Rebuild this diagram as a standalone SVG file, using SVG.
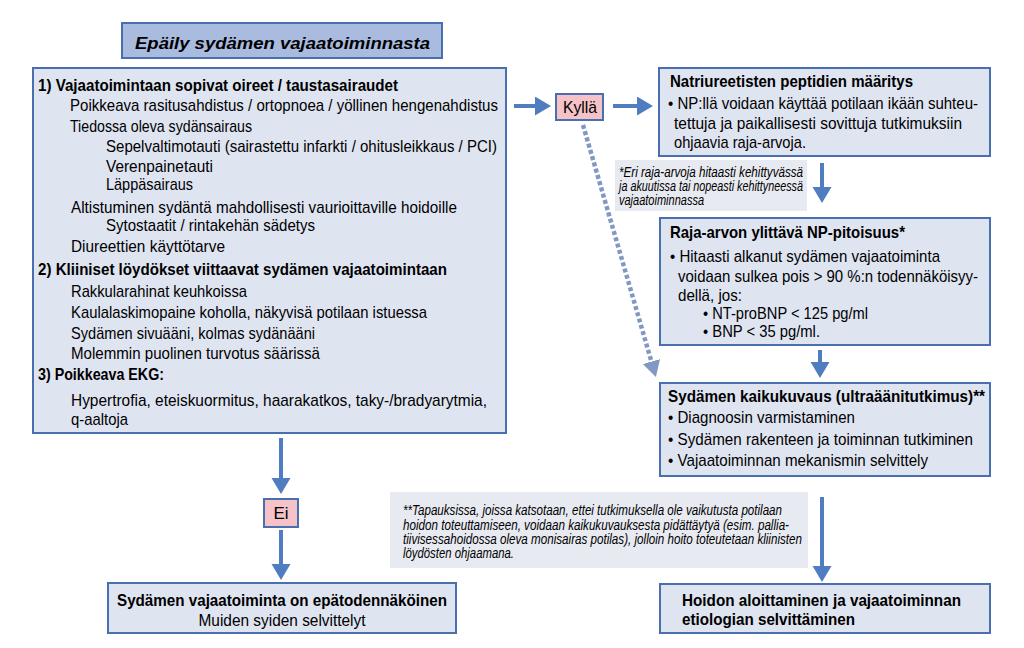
<svg xmlns="http://www.w3.org/2000/svg" width="1024" height="648" viewBox="0 0 1024 648">
<style>
.box{fill:#dfe4f1;stroke:#4a6fb0;stroke-width:2}
.ttl{fill:#a9bbdf;stroke:#4a6fb0;stroke-width:2}
.pink{fill:#f5c3c7;stroke:#4a6fb0;stroke-width:2}
.note{fill:#e8eaf1}
.t{font-family:"Liberation Sans",Arial,sans-serif;font-size:17px;fill:#000000}
.b{font-weight:bold}
.n{font-family:"Liberation Sans",Arial,sans-serif;font-style:italic;font-size:14px;fill:#000000}
.arr{stroke:#4f7dbf;stroke-width:4;fill:none;marker-end:url(#ah)}
.dot{stroke:#8298c4;stroke-width:4.5;fill:none;stroke-dasharray:4 2.5;marker-end:url(#ahd)}
</style>
<defs>
<marker id="ah" markerUnits="userSpaceOnUse" markerWidth="18" markerHeight="20" refX="2" refY="9.5" orient="auto">
<path d="M0,0 L16,9.5 L0,19 z" fill="#4f7dbf"/>
</marker>
<marker id="ahd" markerUnits="userSpaceOnUse" markerWidth="18" markerHeight="20" refX="2" refY="9" orient="auto">
<path d="M0,0 L16,9 L0,18 z" fill="#8298c4"/>
</marker>
</defs>
<rect width="1024" height="648" fill="#ffffff"/>

<g id="connectors">
<line class="arr" x1="514" y1="106" x2="537" y2="106"/>
<line class="arr" x1="613" y1="106" x2="639" y2="106"/>
<line class="arr" x1="822" y1="163" x2="822" y2="189"/>
<line class="arr" x1="820" y1="350" x2="820" y2="364"/>
<line class="arr" x1="822" y1="497" x2="822" y2="568"/>
<line class="arr" x1="281" y1="438" x2="281" y2="480"/>
<line class="arr" x1="281" y1="530" x2="281" y2="566"/>
<line class="dot" x1="583" y1="125" x2="652" y2="363.5"/>
</g>

<g id="title">
<rect class="ttl" x="122" y="23" width="320" height="35"/>
<text class="t b" x="282.5" y="49" text-anchor="middle" font-size="22" font-style="italic" textLength="295" lengthAdjust="spacingAndGlyphs">Epäily sydämen vajaatoiminnasta</text>
</g>

<g id="criteria">
<rect class="box" x="33" y="68" width="473" height="365"/>
<text class="t b" x="38" y="91" textLength="360" lengthAdjust="spacingAndGlyphs">1) Vajaatoimintaan sopivat oireet / taustasairaudet</text>
<text class="t" x="70" y="111" textLength="428" lengthAdjust="spacingAndGlyphs">Poikkeava rasitusahdistus / ortopnoea / yöllinen hengenahdistus</text>
<text class="t" x="70" y="132" textLength="182" lengthAdjust="spacingAndGlyphs">Tiedossa oleva sydänsairaus</text>
<text class="t" x="106" y="152" textLength="391" lengthAdjust="spacingAndGlyphs">Sepelvaltimotauti (sairastettu infarkti / ohitusleikkaus / PCI)</text>
<text class="t" x="106" y="172" textLength="107" lengthAdjust="spacingAndGlyphs">Verenpainetauti</text>
<text class="t" x="106" y="190" textLength="87" lengthAdjust="spacingAndGlyphs">Läppäsairaus</text>
<text class="t" x="71" y="213" textLength="386" lengthAdjust="spacingAndGlyphs">Altistuminen sydäntä mahdollisesti vaurioittaville hoidoille</text>
<text class="t" x="106" y="231" textLength="209" lengthAdjust="spacingAndGlyphs">Sytostaatit / rintakehän sädetys</text>
<text class="t" x="71" y="252" textLength="154" lengthAdjust="spacingAndGlyphs">Diureettien käyttötarve</text>
<text class="t b" x="38" y="275" textLength="409" lengthAdjust="spacingAndGlyphs">2) Kliiniset löydökset viittaavat sydämen vajaatoimintaan</text>
<text class="t" x="71" y="297" textLength="176" lengthAdjust="spacingAndGlyphs">Rakkularahinat keuhkoissa</text>
<text class="t" x="71" y="318" textLength="356" lengthAdjust="spacingAndGlyphs">Kaulalaskimopaine koholla, näkyvisä potilaan istuessa</text>
<text class="t" x="71" y="339" textLength="244" lengthAdjust="spacingAndGlyphs">Sydämen sivuääni, kolmas sydänääni</text>
<text class="t" x="71" y="359" textLength="249" lengthAdjust="spacingAndGlyphs">Molemmin puolinen turvotus säärissä</text>
<text class="t b" x="38" y="380" textLength="126" lengthAdjust="spacingAndGlyphs">3) Poikkeava EKG:</text>
<text class="t" x="71" y="406" textLength="416" lengthAdjust="spacingAndGlyphs">Hypertrofia, eteiskuormitus, haarakatkos, taky-/bradyarytmia,</text>
<text class="t" x="71" y="425" textLength="57" lengthAdjust="spacingAndGlyphs">q-aaltoja</text>
</g>

<g id="kylla">
<rect class="pink" x="556" y="94" width="47" height="26"/>
<text class="t" x="580" y="113" text-anchor="middle" textLength="34" lengthAdjust="spacingAndGlyphs">Kyllä</text>
</g>

<g id="np-measure">
<rect class="box" x="659" y="68" width="331" height="88"/>
<text class="t b" x="670" y="87" textLength="243" lengthAdjust="spacingAndGlyphs">Natriureetisten peptidien määritys</text>
<text class="t" x="668" y="109" textLength="310" lengthAdjust="spacingAndGlyphs">• NP:llä voidaan käyttää potilaan ikään suhteu-</text>
<text class="t" x="674" y="129" textLength="288" lengthAdjust="spacingAndGlyphs">tettuja ja paikallisesti sovittuja tutkimuksiin</text>
<text class="t" x="674" y="148" textLength="132" lengthAdjust="spacingAndGlyphs">ohjaavia raja-arvoja.</text>
</g>

<g id="note1">
<rect class="note" x="615" y="160" width="192" height="51"/>
<text class="n" x="619" y="177" textLength="184" lengthAdjust="spacingAndGlyphs">*Eri raja-arvoja hitaasti kehittyvässä</text>
<text class="n" x="619" y="191" textLength="184" lengthAdjust="spacingAndGlyphs">ja akuutissa tai nopeasti kehittyneessä</text>
<text class="n" x="619" y="205" textLength="85" lengthAdjust="spacingAndGlyphs">vajaatoiminnassa</text>
</g>

<g id="np-high">
<rect class="box" x="660" y="218" width="330" height="127"/>
<text class="t b" x="670" y="238" textLength="235" lengthAdjust="spacingAndGlyphs">Raja-arvon ylittävä NP-pitoisuus*</text>
<text class="t" x="670" y="262" textLength="270" lengthAdjust="spacingAndGlyphs">• Hitaasti alkanut sydämen vajaatoiminta</text>
<text class="t" x="678" y="282" textLength="300" lengthAdjust="spacingAndGlyphs">voidaan sulkea pois &gt; 90 %:n todennäköisyy-</text>
<text class="t" x="678" y="301" textLength="64" lengthAdjust="spacingAndGlyphs">dellä, jos:</text>
<text class="t" x="703" y="319" textLength="165" lengthAdjust="spacingAndGlyphs">• NT-proBNP &lt; 125 pg/ml</text>
<text class="t" x="703" y="337" textLength="117" lengthAdjust="spacingAndGlyphs">• BNP &lt; 35 pg/ml.</text>
</g>

<g id="echo">
<rect class="box" x="660" y="383" width="330" height="93"/>
<text class="t b" x="668" y="402" textLength="317" lengthAdjust="spacingAndGlyphs">Sydämen kaikukuvaus (ultraäänitutkimus)**</text>
<text class="t" x="668" y="423" textLength="187" lengthAdjust="spacingAndGlyphs">• Diagnoosin varmistaminen</text>
<text class="t" x="668" y="445" textLength="305" lengthAdjust="spacingAndGlyphs">• Sydämen rakenteen ja toiminnan tutkiminen</text>
<text class="t" x="668" y="466" textLength="260" lengthAdjust="spacingAndGlyphs">• Vajaatoiminnan mekanismin selvittely</text>
</g>

<g id="note2">
<rect class="note" x="390" y="492" width="418" height="76"/>
<text class="n" x="403" y="515" textLength="379" lengthAdjust="spacingAndGlyphs">**Tapauksissa, joissa katsotaan, ettei tutkimuksella ole vaikutusta potilaan</text>
<text class="n" x="403" y="529.5" textLength="386" lengthAdjust="spacingAndGlyphs">hoidon toteuttamiseen, voidaan kaikukuvauksesta pidättäytyä (esim. pallia-</text>
<text class="n" x="403" y="544" textLength="399" lengthAdjust="spacingAndGlyphs">tiivisessahoidossa oleva monisairas potilas), jolloin hoito toteutetaan kliinisten</text>
<text class="n" x="403" y="558" textLength="111" lengthAdjust="spacingAndGlyphs">löydösten ohjaamana.</text>
</g>

<g id="ei">
<rect class="pink" x="264" y="499" width="34" height="28"/>
<text class="t" x="281" y="519" text-anchor="middle">Ei</text>
</g>

<g id="unlikely">
<rect class="box" x="108" y="583" width="348" height="50"/>
<text class="t b" x="282" y="606" text-anchor="middle" textLength="330" lengthAdjust="spacingAndGlyphs">Sydämen vajaatoiminta on epätodennäköinen</text>
<text class="t" x="282" y="626" text-anchor="middle" textLength="167" lengthAdjust="spacingAndGlyphs">Muiden syiden selvittelyt</text>
</g>

<g id="treatment">
<rect class="box" x="660" y="584" width="330" height="49"/>
<text class="t b" x="682" y="606" textLength="279" lengthAdjust="spacingAndGlyphs">Hoidon aloittaminen ja vajaatoiminnan</text>
<text class="t b" x="682" y="625" textLength="173" lengthAdjust="spacingAndGlyphs">etiologian selvittäminen</text>
</g>
</svg>
